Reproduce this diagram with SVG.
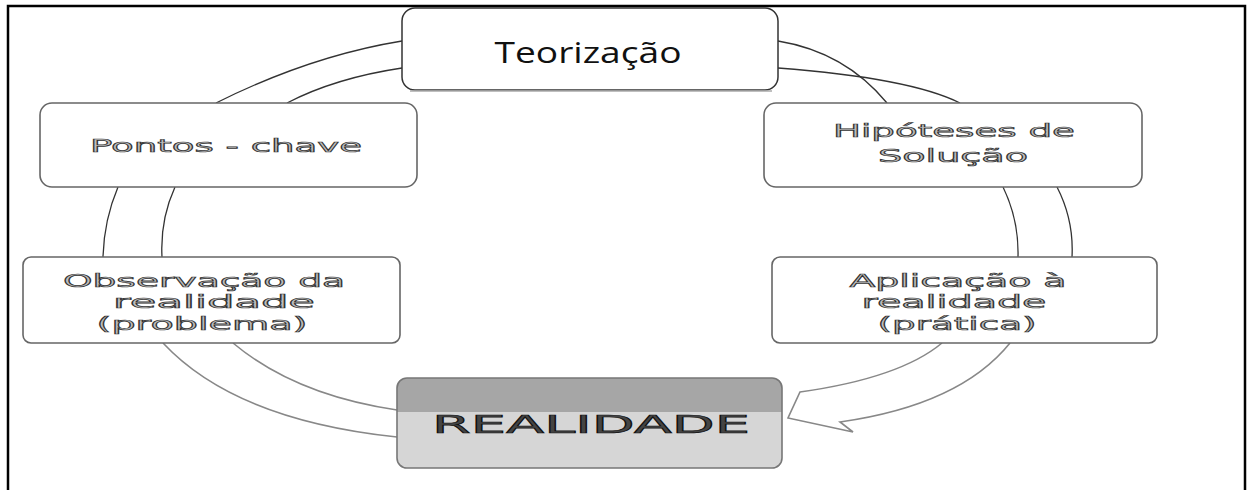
<svg xmlns="http://www.w3.org/2000/svg" width="1247" height="490" viewBox="0 0 1247 490">
  <style>
    .box { fill: #ffffff; stroke: #666; stroke-width: 1.6; }
    .lbl { font-family: "DejaVu Sans", sans-serif; font-size: 18px; fill: #bdbdbd; stroke: #333; stroke-width: 0.7; text-anchor: middle; }
    .thin { fill: none; stroke: #333; stroke-width: 1.3; }
    .band { fill: none; stroke: #888; stroke-width: 1.6; }
  </style>
  <defs>
    <linearGradient id="realGrad" x1="0" y1="0" x2="0" y2="1">
      <stop offset="0" stop-color="#a6a6a6"/>
      <stop offset="0.38" stop-color="#a6a6a6"/>
      <stop offset="0.38" stop-color="#d6d6d6"/>
      <stop offset="1" stop-color="#d6d6d6"/>
    </linearGradient>
  </defs>
  <rect width="1247" height="490" fill="#ffffff"/>
  <path d="M8,490 V6 H1245 V490" fill="none" stroke="#000" stroke-width="2.5"/>

  <g id="connectors">
    <path class="thin" d="M402,41 Q310,56 216,103"/>
    <path class="thin" d="M402,68 Q335,78 287,103"/>
    <path class="thin" d="M778,41 Q845,52 887,103"/>
    <path class="thin" d="M778,68 Q910,78 960,103"/>
    <path class="thin" d="M118,187 Q104,220 103,257"/>
    <path class="thin" d="M175,187 Q160,220 162,257"/>
    <path class="thin" d="M1003,187 Q1019,220 1018,257"/>
    <path class="thin" d="M1057,187 Q1074,220 1072,257"/>
    <path class="band" d="M163,343 Q235,420 397,437"/>
    <path class="band" d="M233,343 Q295,395 397,410"/>
    <path class="band" d="M1010,343 Q960,405 840,422 L853,432 L788,418 L800,392 Q900,378 942,343"/>
  </g>

  <g id="teorizacao">
    <rect x="402" y="8" width="376" height="82" rx="13" fill="#fff" stroke="#333" stroke-width="1.5"/>
    <line x1="410" y1="91" x2="772" y2="91" stroke="#aaa" stroke-width="1.5"/>
    <text x="588" y="63" font-family="'Open Sans', sans-serif" font-size="29" fill="#111" text-anchor="middle" textLength="187" lengthAdjust="spacingAndGlyphs">Teorização</text>
  </g>

  <g id="pontos">
    <rect class="box" x="40" y="103" width="377" height="84" rx="12"/>
    <text class="lbl" x="226" y="152" font-size="21" textLength="272" lengthAdjust="spacingAndGlyphs">Pontos - chave</text>
  </g>

  <g id="hipoteses">
    <rect class="box" x="764" y="103" width="378" height="84" rx="12"/>
    <text class="lbl" x="954" y="137" font-size="20" textLength="242" lengthAdjust="spacingAndGlyphs">Hipóteses de</text>
    <text class="lbl" x="953" y="162" font-size="20" textLength="150" lengthAdjust="spacingAndGlyphs">Solução</text>
  </g>

  <g id="observacao">
    <rect class="box" x="23" y="257" width="377" height="86" rx="8"/>
    <text class="lbl" x="204" y="287" textLength="282" lengthAdjust="spacingAndGlyphs">Observação da</text>
    <text class="lbl" x="214" y="308" textLength="202" lengthAdjust="spacingAndGlyphs">realidade</text>
    <text class="lbl" x="202" y="330" textLength="211" lengthAdjust="spacingAndGlyphs">(problema)</text>
  </g>

  <g id="aplicacao">
    <rect class="box" x="772" y="257" width="385" height="86" rx="8"/>
    <text class="lbl" x="958" y="287" textLength="217" lengthAdjust="spacingAndGlyphs">Aplicação à</text>
    <text class="lbl" x="954" y="308" textLength="185" lengthAdjust="spacingAndGlyphs">realidade</text>
    <text class="lbl" x="957" y="330" textLength="159" lengthAdjust="spacingAndGlyphs">(prática)</text>
  </g>

  <g id="realidade">
    <rect x="397" y="378" width="385" height="90" rx="10" fill="url(#realGrad)" stroke="#777" stroke-width="1.6"/>
    <text x="591" y="433" font-family="'DejaVu Sans', sans-serif" font-size="25" fill="#444" stroke="#111" stroke-width="0.7" text-anchor="middle" textLength="318" lengthAdjust="spacingAndGlyphs">REALIDADE</text>
  </g>
</svg>
